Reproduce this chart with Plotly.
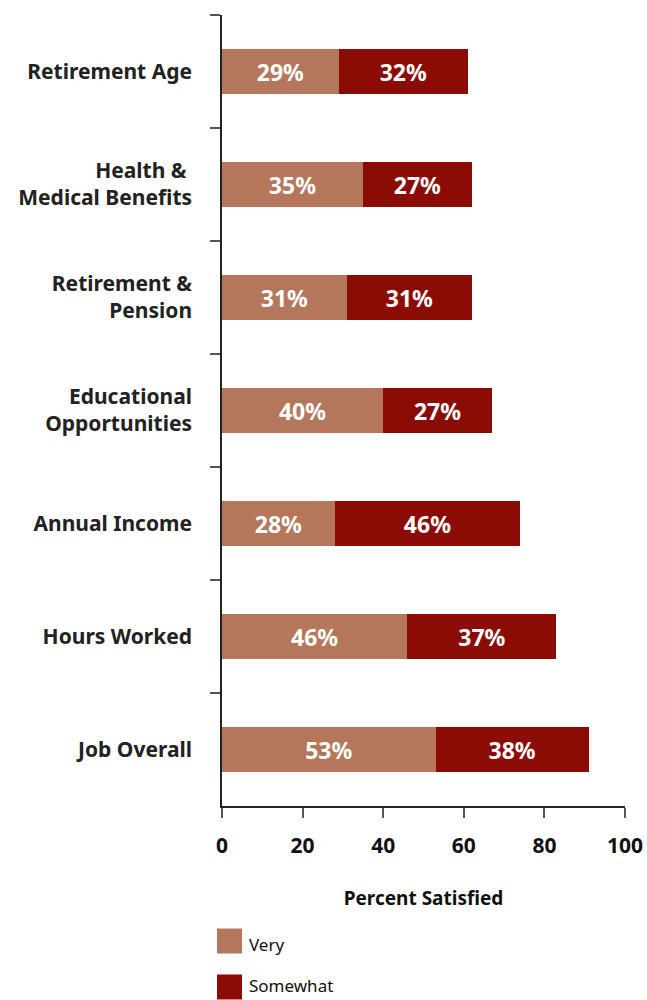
import plotly.graph_objects as go

categories = [
    "Retirement Age",
    "Health & <br>Medical Benefits",
    "Retirement &<br>Pension",
    "Educational<br>Opportunities",
    "Annual Income",
    "Hours Worked",
    "Job Overall",
]
very = [29, 35, 31, 40, 28, 46, 53]
somewhat = [32, 27, 31, 27, 46, 37, 38]
series_names = ["Very", "Somewhat"]
colors = ["#B5775C", "#8B0C04"]
x_ticks = [0, 20, 40, 60, 80, 100]

FONT = "Noto Sans"

fig = go.Figure()
for name, vals, col in zip(series_names, [very, somewhat], colors):
    fig.add_trace(go.Bar(
        y=categories, x=vals, name=name, orientation="h",
        marker=dict(color=col, line=dict(width=0)),
        text=[f"{v}%" for v in vals], textposition="inside",
        insidetextanchor="middle",
        textfont=dict(family=FONT, size=23, color="white", weight="bold"),
        showlegend=False,
    ))

# legend swatches drawn as squares under the axis title
legend_y = [-0.1707, -0.2288]
label_y = [-0.1747, -0.2268]
for name, col, yy, ty in zip(series_names, colors, legend_y, label_y):
    fig.add_shape(type="rect", xref="paper", yref="paper",
                  x0=-0.0124, x1=0.0496, y0=yy - 0.0158, y1=yy + 0.0158,
                  fillcolor=col, line=dict(width=0))
    fig.add_annotation(xref="paper", yref="paper", x=0.062, y=ty,
                       text=name, showarrow=False, xanchor="left", yanchor="middle",
                       font=dict(family=FONT, size=17, color="#111"))

fig.update_layout(
    barmode="stack",
    bargap=0.6,
    width=647, height=1000,
    margin=dict(l=222, r=22, t=15, b=194, autoexpand=False),
    plot_bgcolor="white", paper_bgcolor="white",
    font=dict(family=FONT, color="#222"),
    xaxis=dict(
        range=[0, 100], tickvals=x_ticks, showgrid=False, zeroline=False,
        automargin=False,
        showline=True, linecolor="#222", linewidth=1.5,
        ticks="outside", ticklen=10, tickcolor="#555", tickwidth=1.5,
        ticklabelstandoff=10,
        tickfont=dict(family=FONT, size=21, color="#111", weight="bold"),
        title=dict(text="Percent Satisfied", standoff=34,
                   font=dict(family=FONT, size=19, color="#111", weight="bold")),
    ),
    yaxis=dict(
        autorange="reversed", showgrid=False, zeroline=False,
        automargin=False,
        showline=True, linecolor="#222", linewidth=1.5,
        ticks="outside", tickson="boundaries", ticklen=10,
        tickcolor="#555", tickwidth=1.5, ticklabelstandoff=24,
        tickfont=dict(family=FONT, size=21, color="#222", weight="bold"),
    ),
)

fig.write_html("out.html")
